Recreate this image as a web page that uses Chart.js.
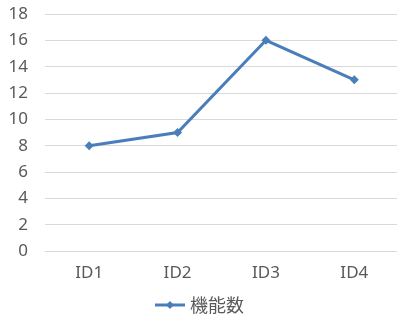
<!DOCTYPE html>
<html>
<head>
<meta charset="utf-8">
<script src="https://cdn.jsdelivr.net/npm/chart.js@4/dist/chart.umd.min.js"></script>
<style>
  html, body { margin: 0; padding: 0; background: #fff; overflow: hidden; }
  #wrap { width: 403px; height: 324px; }
</style>
</head>
<body>
<div id="wrap"><canvas id="lineChart" width="403" height="324"></canvas></div>
<script>
const categories = ['ID1', 'ID2', 'ID3', 'ID4'];
const seriesName = '機能数';
const seriesValues = [8, 9, 16, 13];
const yTicks = [0, 2, 4, 6, 8, 10, 12, 14, 16, 18];

const blue = '#4A7EBB';
const textColor = '#595959';
const fontFamily = '"Noto Sans", "Noto Sans CJK JP", sans-serif';
const cjkFamily = '"Noto Sans CJK JP", "Noto Sans", sans-serif';

// little legend swatch: line with diamond
function legendSwatch() {
    let c = document.createElement('canvas');
    c.width = 30;
    c.height = 10;
    let ctx = c.getContext('2d');
    ctx.strokeStyle = blue;
    ctx.lineWidth = 3;
    ctx.beginPath();
    ctx.moveTo(0, 5);
    ctx.lineTo(30, 5);
    ctx.stroke();
    ctx.fillStyle = blue;
    ctx.beginPath();
    ctx.moveTo(15, 1);
    ctx.lineTo(19, 5);
    ctx.lineTo(15, 9);
    ctx.lineTo(11, 5);
    ctx.closePath();
    ctx.fill();
    return c;
}

let statChart = new Chart(document.getElementById('lineChart'), {
    type: 'line',
    data: {
        labels: categories,
        datasets: [{
            label: seriesName,
            data: seriesValues,
            borderColor: blue,
            backgroundColor: blue,
            borderWidth: 3,
            pointStyle: 'rectRot',
            pointRadius: 4.5,
            pointBorderWidth: 0,
            tension: 0,
            fill: false
        }]
    },
    options: {
        responsive: false,
        animation: false,
        layout: {padding: {top: 14, left: 0, right: 0, bottom: 0}},
        scales: {
            x: {
                offset: true,
                grid: {display: false},
                border: {display: false},
                afterFit: (axis) => { axis.height = 40; axis.paddingLeft = 0; axis.paddingRight = 0; },
                ticks: {color: textColor, padding: 4, font: {family: fontFamily, size: 17}}
            },
            y: {
                min: 0,
                max: 18,
                afterBuildTicks: (axis) => { axis.ticks = yTicks.map(v => ({value: v})); },
                afterFit: (axis) => { axis.width = 45; axis.paddingTop = 0; axis.paddingBottom = 0; },
                grid: {color: '#d9d9d9', lineWidth: 1, drawTicks: false},
                border: {display: false},
                ticks: {color: textColor, padding: 17, font: {family: fontFamily, size: 17}}
            }
        },
        plugins: {
            legend: {
                display: true,
                position: 'bottom',
                labels: {
                    color: textColor,
                    font: {family: cjkFamily, size: 18},
                    usePointStyle: true,
                    pointStyleWidth: 22,
                    padding: 5,
                    generateLabels: (chart) => [{
                        text: seriesName,
                        pointStyle: legendSwatch(),
                        fontColor: textColor,
                        datasetIndex: 0
                    }]
                }
            },
            title: {display: false},
            tooltip: {enabled: false}
        }
    }
});
</script>
</body>
</html>
